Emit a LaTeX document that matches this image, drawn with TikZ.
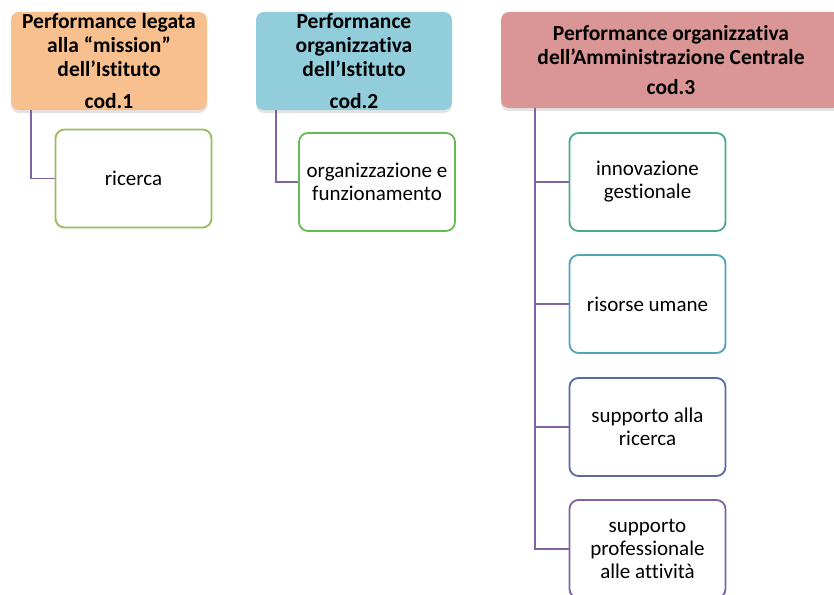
\documentclass[tikz,border=0pt]{standalone}
\usepackage{fontspec}
\setmainfont{Carlito}[Ligatures={NoCommon}]
\usetikzlibrary{shadows}
\definecolor{hpeach}{HTML}{F8BF8F}
\definecolor{hblue}{HTML}{92CDDC}
\definecolor{hrose}{HTML}{D99694}
\definecolor{bgreenA}{HTML}{9BBB59}
\definecolor{bgreenB}{HTML}{66BB55}
\definecolor{bteal}{HTML}{4BAA8A}
\definecolor{bcyan}{HTML}{4EA5B8}
\definecolor{bblue}{HTML}{5B68A8}
\definecolor{bviolet}{HTML}{8064A2}
\definecolor{connc}{HTML}{8064A2}
\tikzset{
  headbox/.style={draw=none, rounded corners=8pt, inner sep=0pt, align=center,
    font=\fontsize{21.5}{24}\selectfont\bfseries,
    drop shadow={shadow xshift=0pt, shadow yshift=-3pt, opacity=0.22}},
  childbox/.style={draw, line width=1.8pt, fill=white, rounded corners=9pt, inner sep=0pt,
    minimum width=156pt, minimum height=98pt, align=center,
    font=\fontsize{21}{23}\selectfont},
  conn/.style={draw=connc, line width=1.8pt},
}
\begin{document}
\begin{tikzpicture}[x=1pt,y=-1pt]
\useasboundingbox (0,0) rectangle (834,594);
\begin{scope}
\clip (0,0) rectangle (834,594);
\node[headbox, fill=hpeach, minimum width=196pt, minimum height=98pt] (h1) at (109,61)
  {Performance legata\\alla “mission”\\dell’Istituto\\[8pt]cod.1};
\node[headbox, fill=hblue, minimum width=196pt, minimum height=98pt] (h2) at (354,61)
  {Performance\\organizzativa\\dell'Istituto\\[8pt]cod.2};
\node[headbox, fill=hrose, minimum width=340pt, minimum height=96pt] (h3) at (671,60)
  {\fontsize{21.5}{25}\selectfont Performance organizzativa\\dell’Amministrazione Centrale\\[6pt]cod.3};

\node[childbox, draw=bgreenA] (c1) at (133.5,178.5) {ricerca};
\node[childbox, draw=bgreenB] (c2) at (377,182) {organizzazione e\\funzionamento};
\node[childbox, draw=bteal] (c3a) at (647.5,182) {innovazione\\gestionale};
\node[childbox, draw=bcyan] (c3b) at (647.5,304) {risorse umane};
\node[childbox, draw=bblue] (c3c) at (647.5,427) {supporto alla\\ricerca};
\node[childbox, draw=bviolet] (c3d) at (647.5,549) {supporto\\professionale\\alle attività};

\draw[conn] ([xshift=20pt]h1.south west) |- (c1.west);
\draw[conn] ([xshift=20pt]h2.south west) |- (c2.west);
\draw[conn] ([xshift=34pt]h3.south west) |- (c3d.west);
\draw[conn] ([xshift=34pt]h3.south west) |- (c3a.west);
\draw[conn] ([xshift=34pt]h3.south west) |- (c3b.west);
\draw[conn] ([xshift=34pt]h3.south west) |- (c3c.west);
\end{scope}
\end{tikzpicture}
\end{document}
